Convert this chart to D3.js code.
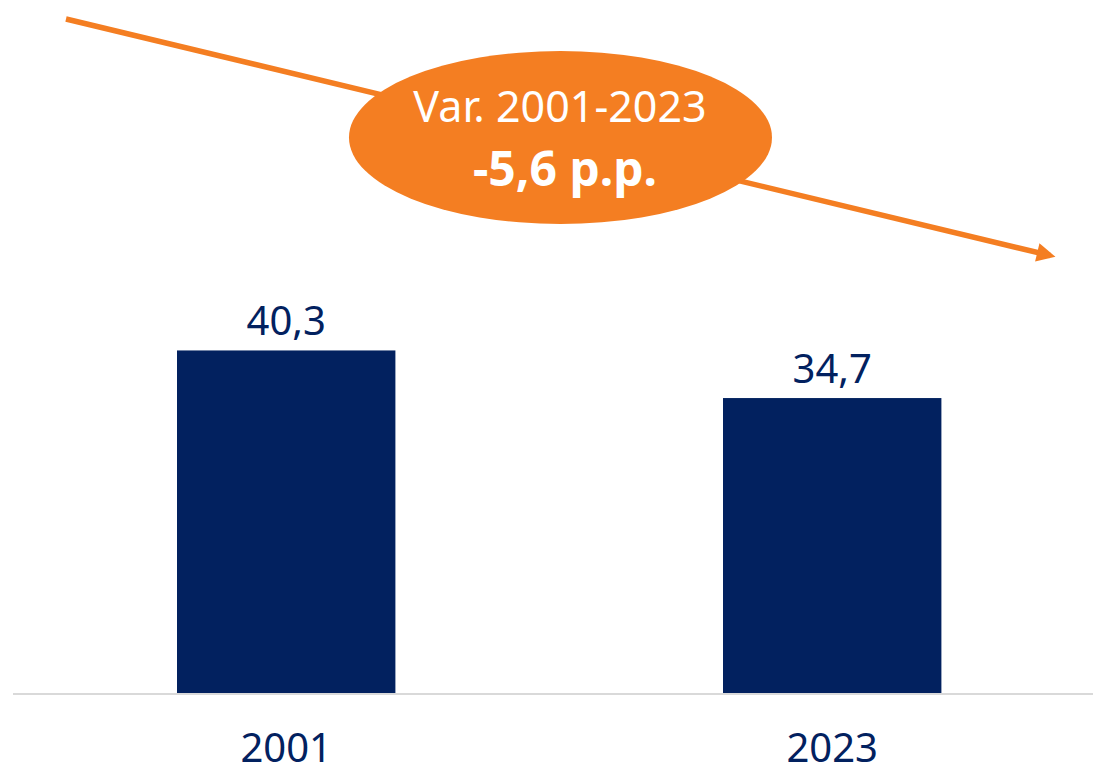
<!DOCTYPE html>
<html>
<head>
<meta charset="utf-8">
<script src="https://cdn.jsdelivr.net/npm/d3@7"></script>
<style>
  body { margin: 0; background: #fff; }
  svg text { font-family: "Noto Sans", "Open Sans", sans-serif; }
</style>
</head>
<body>
<svg id="chart" width="1095" height="776"></svg>
<script>
// data
var years = ["2001", "2023"]
var values = [40.3, 34.7]
var varLabel = "Var. 2001-2023"
var varValue = "-5,6 p.p."

var svg = d3.select('#chart')
var navy = "#02215f", orange = "#f47e22"

var xScale = d3.scaleBand()
    .domain(years)
    .range([13.2, 1105.2])
    .paddingInner(0.6)
    .paddingOuter(0.3)
var yScale = d3.scaleLinear()
    .domain([0, 50])
    .range([693, 268])

// baseline
svg.append('line')
    .attr('x1', 13).attr('x2', 1093)
    .attr('y1', 694).attr('y2', 694)
    .attr('stroke', '#d9d9d9')
    .attr('stroke-width', 2)

svg.selectAll('rect.bar')
    .data(values)
    .enter().append('rect')
    .attr('class', 'bar')
    .attr('x', (d, i) => xScale(years[i]))
    .attr('y', d => yScale(d))
    .attr('width', xScale.bandwidth())
    .attr('height', d => yScale(0) - yScale(d))
    .attr('fill', navy)

svg.selectAll('text.val')
    .data(values)
    .enter().append('text')
    .attr('class', 'val')
    .attr('x', (d, i) => xScale(years[i]) + xScale.bandwidth() / 2)
    .attr('y', d => yScale(d) - 15)
    .attr('text-anchor', 'middle')
    .attr('font-size', '40px')
    .attr('fill', navy)
    .text(d => d.toFixed(1).replace('.', ','))

svg.selectAll('text.year')
    .data(years)
    .enter().append('text')
    .attr('class', 'year')
    .attr('x', d => xScale(d) + xScale.bandwidth() / 2)
    .attr('y', 762)
    .attr('text-anchor', 'middle')
    .attr('font-size', '40px')
    .attr('fill', navy)
    .text(d => d)

// trend arrow
svg.append('defs').append('marker')
    .attr('id', 'head')
    .attr('viewBox', '0 0 10 10')
    .attr('refX', 7).attr('refY', 5)
    .attr('markerWidth', 4).attr('markerHeight', 3.4)
    .attr('markerUnits', 'strokeWidth')
    .attr('orient', 'auto')
    .append('path')
    .attr('d', 'M0,0 L10,5 L0,10 Z')
    .attr('fill', orange)

svg.append('line')
    .attr('x1', 66).attr('y1', 19)
    .attr('x2', 1050).attr('y2', 255.5)
    .attr('stroke', orange)
    .attr('stroke-width', 5.5)
    .attr('marker-end', 'url(#head)')

// callout
svg.append('ellipse')
    .attr('cx', 560.5).attr('cy', 137.5)
    .attr('rx', 211.5).attr('ry', 86.5)
    .attr('fill', orange)

svg.append('text')
    .attr('x', 560).attr('y', 122)
    .attr('text-anchor', 'middle')
    .attr('font-size', '43px')
    .attr('fill', '#fff')
    .text(varLabel)

svg.append('text')
    .attr('x', 565).attr('y', 186)
    .attr('text-anchor', 'middle')
    .attr('font-size', '48px')
    .attr('font-weight', 'bold')
    .attr('fill', '#fff')
    .text(varValue)
</script>
</body>
</html>
